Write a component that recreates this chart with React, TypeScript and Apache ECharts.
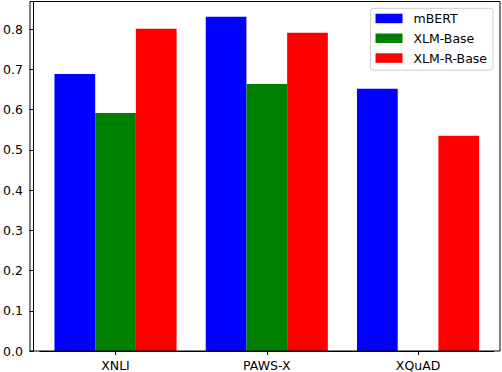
import React, { useEffect, useRef } from "react";
import * as echarts from "echarts";

const categories = ["XNLI", "PAWS-X", "XQuAD"];
const mbert = [0.689, 0.831, 0.652];
const xlmBase = [0.592, 0.664, 0];
const xlmRBase = [0.801, 0.791, 0.535];
const seriesNames = ["mBERT", "XLM-Base", "XLM-R-Base"];
const colors = ["#0000ff", "#008000", "#ff0000"];

const FONT = "DejaVu Sans";
const FS = 12.5;

export default function App() {
  const ref = useRef<HTMLDivElement>(null);
  useEffect(() => {
    document.body.style.margin = "0";
    const chart = echarts.init(ref.current!, null, { renderer: "svg" });
    const values = [mbert, xlmBase, xlmRBase];
    chart.setOption({
      animation: false,
      backgroundColor: "#ffffff",
      textStyle: { fontFamily: FONT },
      grid: { left: 36.5, right: 8.3, top: 1.5, bottom: 21 },
      legend: {
        orient: "vertical",
        right: 9,
        top: 8.3,
        itemWidth: 27,
        itemHeight: 9.5,
        itemGap: 5.5,
        icon: "rect",
        padding: [3, 6, 5, 5],
        backgroundColor: "#ffffff",
        borderColor: "#d0d0d0",
        borderWidth: 1,
        borderRadius: 3,
        textStyle: {
          fontFamily: FONT,
          fontSize: FS,
          color: "#000",
          lineHeight: 14.3,
          padding: [0, 0, 0, 6],
        },
        data: seriesNames,
      },
      xAxis: {
        type: "category",
        data: categories,
        axisLine: { show: true, lineStyle: { color: "#000", width: 1 } },
        axisTick: { show: true, alignWithLabel: true, length: 4, lineStyle: { color: "#000" } },
        axisLabel: { fontFamily: FONT, fontSize: FS, color: "#000", margin: 8 },
        splitLine: { show: false },
      },
      yAxis: {
        type: "value",
        min: 0,
        max: 0.869,
        interval: 0.1,
        offset: 6.5,
        axisLine: { show: true, lineStyle: { color: "#000", width: 1 } },
        axisTick: { show: true, length: 4, lineStyle: { color: "#000" } },
        axisLabel: {
          fontFamily: FONT,
          fontSize: FS,
          color: "#000",
          margin: 10.5,
          formatter: (v: number) => v.toFixed(1),
          showMaxLabel: false,
        },
        splitLine: { show: false },
      },
      graphic: [
        {
          type: "rect",
          shape: { x: 30, y: 1.5, width: 470, height: 349.5 },
          style: { fill: "none", stroke: "#000", lineWidth: 1 },
          z: 100,
          silent: true,
        },
      ],
      series: seriesNames.map((name, i) => ({
        name,
        type: "bar",
        data: values[i],
        barWidth: 40.7,
        barGap: "0%",
        itemStyle: { color: colors[i] },
      })),
    });
    return () => chart.dispose();
  }, []);
  return <div ref={ref} style={{ width: 502, height: 372 }} />;
}
